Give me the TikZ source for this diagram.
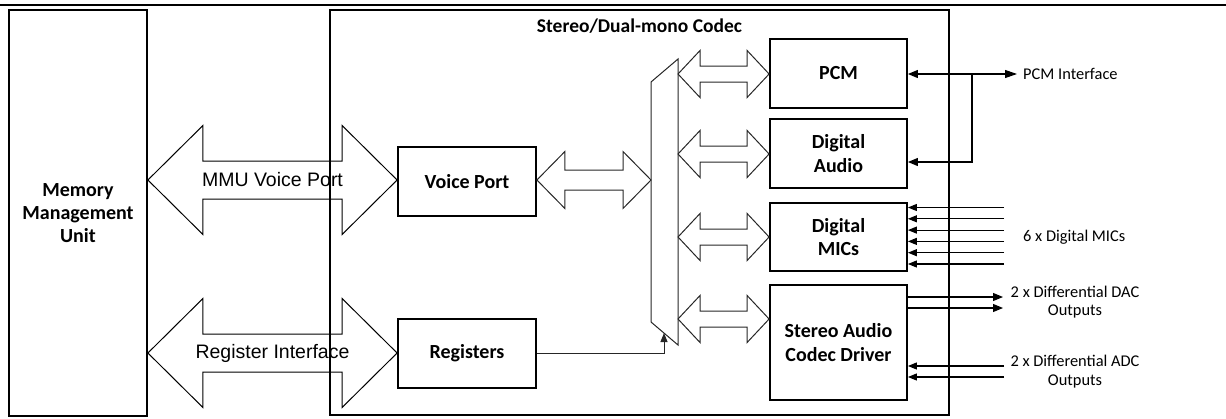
\documentclass[tikz,border=0pt]{standalone}
\usepackage{fontspec}
\setmainfont{Carlito}
\newfontfamily\arialfont{Liberation Sans}
\usetikzlibrary{arrows.meta,calc}

% hollow double-headed bus arrow: from, to, head length, head half-height, shaft half-height
\newcommand\fatarrow[6][]{%
  \draw[#1] let \p1=(#2), \p2=(#3) in
    (\x1,\y1) -- (\x1+#4,\y1+#5) -- (\x1+#4,\y1+#6) -- (\x2-#4,\y1+#6)
    -- (\x2-#4,\y1+#5) -- (\x2,\y1) -- (\x2-#4,\y1-#5) -- (\x2-#4,\y1-#6)
    -- (\x1+#4,\y1-#6) -- (\x1+#4,\y1-#5) -- cycle;}

\begin{document}
\begin{tikzpicture}[x=1pt,y=-1pt,
  block/.style={draw,line width=1.8pt,align=center,inner sep=0pt,
    font=\fontsize{20}{23.4}\selectfont\bfseries},
  bigbus/.style={draw=black,line width=1pt},
  smallbus/.style={draw=black!85,line width=1pt},
  sig/.style={line width=1.1pt,-{Triangle[length=10pt,width=8pt]}},
  sigs/.style={line width=1.1pt,-{Triangle[length=9pt,width=7pt]}},
  lbl/.style={align=center,inner sep=0pt,font=\fontsize{16.4}{18.5}\selectfont},
  buslbl/.style={inner sep=0pt,font=\arialfont\fontsize{19.5}{23}\selectfont},
]
\useasboundingbox (0,0) rectangle (1226,418);

% rule across the top
\draw[line width=2pt] (0,4.5) -- (1226,4.5);

% main blocks
\node[block,minimum width=138pt,minimum height=406pt] (mmu) at (78,213)
  {Memory\\Management\\Unit};
\node[block,minimum width=619pt,minimum height=405pt] (codec) at (639.5,212.5) {};
\node[font=\fontsize{19.5}{23.4}\selectfont\bfseries,inner sep=0pt] (title)
  at (639.5,26) {Stereo/Dual-mono Codec};

\node[block,minimum width=138pt,minimum height=69pt] (vp)  at (467,181.5) {Voice Port};
\node[block,minimum width=138pt,minimum height=69pt] (reg) at (467,353.5) {Registers};

\node[block,minimum width=137pt,minimum height=69pt]  (pcm)  at (838.5,73.5)  {PCM};
\node[block,minimum width=137pt,minimum height=69pt]  (da)   at (838.5,153.5) {Digital\\Audio};
\node[block,minimum width=137pt,minimum height=68pt]  (mics) at (838.5,237)   {Digital\\MICs};
\node[block,minimum width=137pt,minimum height=115pt] (sacd) at (838.5,342.5) {Stereo Audio\\Codec Driver};

% internal bus
\coordinate (busTL) at (651,82);
\coordinate (busTR) at (678,59);
\coordinate (busBR) at (678,345);
\coordinate (busBL) at (651,322);
\draw[smallbus] (busTL) -- (busTR) -- (busBR) -- (busBL) -- cycle;
\coordinate (busIn) at (664,333);

% wide interfaces between MMU and codec
\coordinate (mmuA) at (mmu.east |- 0,180);
\coordinate (vpA)  at (vp.west |- 0,180);
\fatarrow[bigbus]{mmuA}{vpA}{55pt}{54.5pt}{19pt}
\node[buslbl] (mmulbl) at ($(mmuA)!0.5!(vpA)$) {MMU Voice Port};

\coordinate (mmuB) at (mmu.east |- 0,353);
\coordinate (regB) at (reg.west |- 0,353);
\fatarrow[bigbus]{mmuB}{regB}{55pt}{54.5pt}{19pt}
\node[buslbl] (reglbl) at ($(mmuB)!0.5!(regB)$) {Register Interface};

% voice port to bus
\coordinate (vpE)  at (vp.east |- 0,180);
\coordinate (busV) at (busTL |- 0,180);
\fatarrow[smallbus]{vpE}{busV}{28pt}{28.5pt}{10pt}

% bus to the codec function blocks
\foreach \blk/\yy in {pcm/74,da/154,mics/237,sacd/319}{
  \coordinate (bus-\blk) at (busTR |- 0,\yy);
  \coordinate (in-\blk)  at (\blk.west |- 0,\yy);
  \fatarrow[smallbus]{bus-\blk}{in-\blk}{22pt}{23.5pt}{8pt}
}

% register access to the bus
\draw[line width=1pt,draw=black!85,-{Triangle[length=9pt,width=7pt]}] (reg.east) -| (busIn);

% PCM interface
\node[lbl,anchor=west] (pcmtxt) at (1023,74) {PCM Interface};
\coordinate (pcmEnd) at (1017,74);
\draw[line width=1.1pt,{Triangle[length=10pt,width=8pt]}-{Triangle[length=12pt,width=8pt]}]
  (pcm.east |- pcmEnd) -- (pcmEnd);
\coordinate (pcmBr) at (972,74);
\draw[sig] (pcmBr) |- (da.east |- 0,162);

% digital microphone inputs
\node[lbl,anchor=west] (mictxt) at (1023,237) {6 x Digital MICs};
\foreach \i in {0,...,5}{
  \coordinate (mic\i) at (1004,{207.5+11.3*\i});
  \draw[sigs] (mic\i) -- (mic\i -| mics.east);
}

% differential outputs and inputs
\node[lbl] (dactxt) at (1075,302) {2 x Differential DAC\\Outputs};
\foreach \i/\yy in {0/297,1/308}{
  \coordinate (dac\i) at (1003,\yy);
  \draw[sig] (dac\i -| sacd.east) -- (dac\i);
}
\node[lbl] (adctxt) at (1075,371.5) {2 x Differential ADC\\Outputs};
\foreach \i/\yy in {0/366,1/377}{
  \coordinate (adc\i) at (1004,\yy);
  \draw[sigs] (adc\i) -- (adc\i -| sacd.east);
}
\end{tikzpicture}
\end{document}
